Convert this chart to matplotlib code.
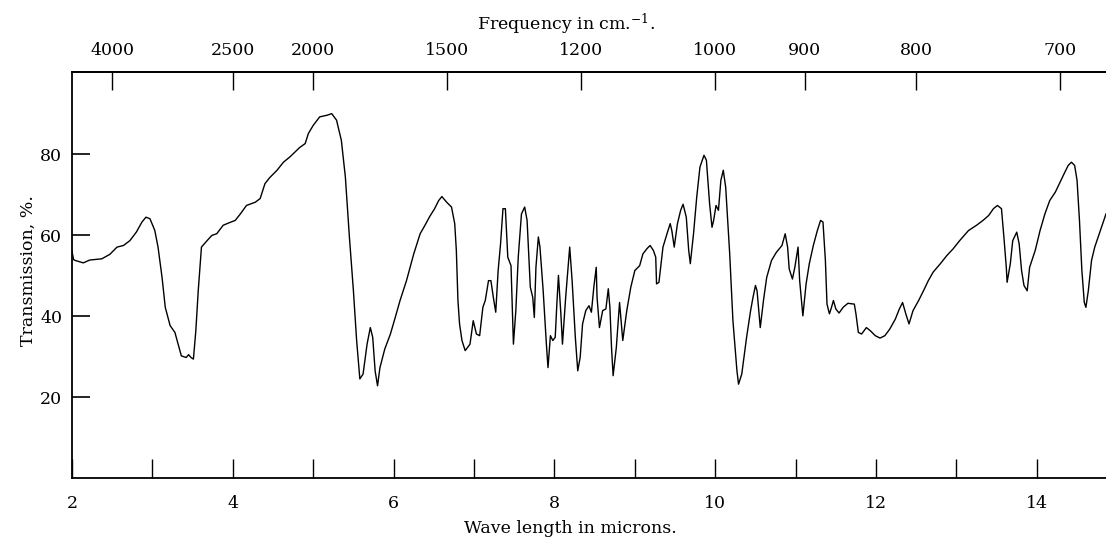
import matplotlib
matplotlib.use("Agg")
import matplotlib.pyplot as plt
import numpy as np

# wave length (microns) and transmission (%)
wavelength = [
    2.00, 2.02, 2.04, 2.14, 2.22, 2.37, 2.47, 2.56, 2.64, 2.72, 2.80, 2.87, 2.92, 2.97,
    3.03, 3.07, 3.12, 3.16, 3.22, 3.28, 3.32, 3.36, 3.42, 3.45, 3.48, 3.51, 3.54, 3.57,
    3.61, 3.68, 3.74, 3.80, 3.88, 3.94, 4.03, 4.09, 4.17, 4.28, 4.34, 4.40, 4.46, 4.55,
    4.63, 4.71, 4.83, 4.90, 4.94, 5.00, 5.08, 5.17, 5.23, 5.29, 5.35, 5.40, 5.45, 5.50,
    5.54, 5.58, 5.62, 5.67, 5.71, 5.74, 5.77, 5.80, 5.83, 5.89, 5.96, 6.02, 6.08, 6.16,
    6.25, 6.33, 6.39, 6.45, 6.51, 6.56, 6.60, 6.66, 6.72, 6.76, 6.78, 6.80, 6.82, 6.85,
    6.89, 6.95, 6.99, 7.03, 7.07, 7.11, 7.14, 7.18, 7.21, 7.24, 7.27, 7.30, 7.33, 7.36,
    7.39, 7.42, 7.46, 7.49, 7.52, 7.55, 7.59, 7.63, 7.66, 7.70, 7.73, 7.75, 7.77, 7.80,
    7.82, 7.86, 7.90, 7.92, 7.95, 7.98, 8.01, 8.03, 8.05, 8.08, 8.10, 8.14, 8.19, 8.22,
    8.26, 8.29, 8.32, 8.35, 8.39, 8.43, 8.46, 8.49, 8.52, 8.53, 8.56, 8.60, 8.64, 8.67,
    8.69, 8.71, 8.73, 8.77, 8.81, 8.85, 8.90, 8.95, 9.00, 9.06, 9.10, 9.15, 9.19, 9.23,
    9.26, 9.27, 9.30, 9.35, 9.40, 9.44, 9.46, 9.49, 9.53, 9.57, 9.60, 9.64, 9.67, 9.69,
    9.73, 9.77, 9.81, 9.86, 9.89, 9.93, 9.96, 9.98, 10.01, 10.04, 10.07, 10.10, 10.13,
    10.18, 10.22, 10.27, 10.29, 10.33, 10.39, 10.44, 10.47, 10.50, 10.52, 10.56, 10.60,
    10.64, 10.70, 10.76, 10.83, 10.87, 10.90, 10.92, 10.96, 10.99, 11.03, 11.05, 11.09,
    11.13, 11.17, 11.22, 11.27, 11.31, 11.34, 11.37, 11.39, 11.42, 11.44, 11.47, 11.50,
    11.54, 11.59, 11.65, 11.73, 11.75, 11.78, 11.82, 11.88, 11.93, 11.99, 12.05, 12.11,
    12.17, 12.24, 12.29, 12.33, 12.37, 12.41, 12.46, 12.53, 12.59, 12.65, 12.71, 12.80,
    12.88, 12.96, 13.04, 13.15, 13.25, 13.33, 13.40, 13.46, 13.51, 13.56, 13.59, 13.62,
    13.63, 13.67, 13.70, 13.75, 13.78, 13.81, 13.84, 13.88, 13.91, 13.98, 14.04, 14.10,
    14.16, 14.23, 14.29, 14.35, 14.39, 14.43, 14.47, 14.50, 14.53, 14.56, 14.59, 14.61,
    14.64, 14.68, 14.72, 14.79, 14.86,
]
transmission = [
    56.0, 54.0, 53.8, 53.2, 53.9, 54.2, 55.3, 57.1, 57.5, 58.7, 60.8, 63.3, 64.5, 64.1,
    61.2, 57.1, 49.6, 42.2, 37.7, 36.0, 33.1, 30.2, 29.8, 30.5, 29.8, 29.4, 36.4, 46.3,
    57.1, 58.7, 60.0, 60.4, 62.5, 63.0, 63.7, 65.2, 67.4, 68.2, 69.1, 72.8, 74.3, 76.1,
    78.1, 79.4, 81.7, 82.7, 85.2, 87.2, 89.3, 89.7, 90.1, 88.5, 83.5, 74.4, 59.6, 46.3,
    34.0, 24.5, 25.7, 33.1, 37.2, 34.8, 26.5, 22.8, 27.3, 31.9, 35.6, 39.7, 43.9, 48.8,
    55.4, 60.4, 62.5, 64.7, 66.6, 68.6, 69.6, 68.2, 67.0, 62.9, 56.3, 43.9, 38.1, 34.0,
    31.5, 33.1, 38.9, 35.6, 35.2, 42.2, 43.9, 48.8, 48.8, 44.7, 41.0, 51.3, 57.9, 66.6,
    66.6, 54.6, 52.5, 33.1, 41.4, 54.6, 65.3, 67.0, 63.7, 47.2, 44.7, 39.7, 52.1, 59.6,
    57.1, 46.3, 33.1, 27.3, 35.2, 34.0, 34.8, 43.0, 50.1, 40.6, 33.1, 44.7, 57.1, 48.8,
    34.8, 26.5, 29.8, 38.1, 41.4, 42.6, 41.0, 47.2, 52.1, 44.7, 37.2, 41.4, 41.8, 46.8,
    42.2, 32.3, 25.3, 32.3, 43.4, 34.0, 41.4, 47.2, 51.3, 52.5, 55.4, 56.7, 57.5, 56.3,
    54.6, 48.0, 48.4, 57.1, 60.4, 62.9, 61.2, 57.1, 62.9, 66.2, 67.7, 64.5, 56.3, 53.0,
    60.4, 69.5, 76.9, 79.8, 78.6, 67.8, 62.0, 63.7, 67.4, 66.2, 73.6, 76.1, 71.9,
    55.4, 38.9, 26.5, 23.2, 25.7, 34.8, 41.4, 44.7, 47.6, 46.3, 37.2, 43.9,
    49.6, 53.8, 55.8, 57.5, 60.4, 57.1, 51.7, 49.2, 52.1, 57.1, 48.8, 40.1,
    48.0, 53.0, 57.5, 61.2, 63.7, 63.3, 53.8, 43.0, 40.6, 41.8, 43.9, 41.8,
    40.8, 42.2, 43.2, 43.0, 40.6, 36.0, 35.6, 37.2, 36.4, 35.2, 34.6, 35.2,
    36.8, 39.3, 41.8, 43.4, 40.6, 38.1, 41.4, 43.9, 46.3, 48.8, 50.9, 53.0,
    55.0, 56.7, 58.7, 61.2, 62.5, 63.7, 64.9, 66.6, 67.4, 66.6, 59.6, 52.1,
    48.4, 53.0, 58.7, 60.8, 57.9, 51.3, 47.6, 46.3, 52.1, 56.3, 61.2, 65.3,
    68.6, 70.7, 73.2, 75.7, 77.3, 78.1, 77.3, 73.6, 63.7, 51.3, 43.4, 42.2,
    46.3, 53.8, 57.1, 61.2, 65.3,
]

micron_labels = [2, 4, 6, 8, 10, 12, 14]
micron_minor = [3, 5, 7, 9, 11, 13]
freq_ticks = [4000, 2500, 2000, 1500, 1200, 1000, 900, 800, 700]
trans_ticks = [20, 40, 60, 80]

plt.rcParams['font.family'] = ['DejaVu Serif']
plt.rcParams['mathtext.fontset'] = 'dejavuserif'

fig = plt.figure(figsize=(11.06, 5.38), dpi=100)
ax = fig.add_axes([72 / 1106, 1 - 478 / 538, 1034 / 1106, 406 / 538])

ax.plot(wavelength, transmission, color='black', lw=1.0)

ax.set_xlim(2, 14.86)
ax.set_ylim(0, 100.4)
ax.spines['right'].set_visible(False)
for s in ('left', 'bottom', 'top'):
    ax.spines[s].set_linewidth(1.3)

ax.set_xticks(micron_labels)
ax.set_xticks(micron_minor, minor=True)
ax.set_yticks(trans_ticks)
ax.tick_params(axis='x', which='both', direction='in', length=14, width=1,
               labelsize=12.5, pad=12)
ax.tick_params(axis='y', direction='in', length=13, width=1.2,
               labelsize=12.5, pad=7)

ax.set_xlabel('Wave length in microns.', fontsize=12.5)
ax.xaxis.set_label_coords(0.4816, -0.103)
ax.set_ylabel('Transmission, %.', fontsize=12.5)
ax.yaxis.set_label_coords(-0.034, 0.512)


def inv(x):
    x = np.asarray(x, dtype=float)
    with np.errstate(divide='ignore'):
        return 1e4 / x


sec = ax.secondary_xaxis('top', functions=(inv, inv))
sec.set_xticks(freq_ticks, labels=[str(f) for f in freq_ticks])
sec.tick_params(direction='in', length=13, width=1, labelsize=12.5, pad=9)
sec.spines['top'].set_linewidth(1.3)
ax.text(0.478, 1.118, 'Frequency in cm.$^{-1}$.', transform=ax.transAxes,
        ha='center', va='center', fontsize=12.5)

fig.savefig('out.png', dpi=100)
